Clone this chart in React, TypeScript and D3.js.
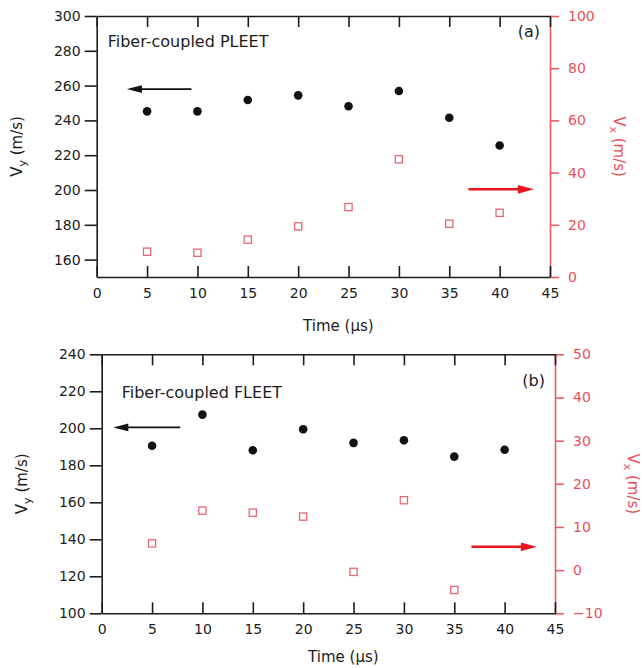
import React, { useRef, useEffect } from 'react';
import * as d3 from 'd3';

// Measured values (time in microseconds)
const times = [5, 10, 15, 20, 25, 30, 35, 40];
const timeTicks = [0, 5, 10, 15, 20, 25, 30, 35, 40, 45];

// Panel (a) - fiber-coupled PLEET
const pleetVy = [245.2, 245.2, 251.7, 254.4, 248.1, 256.9, 241.5, 225.6];
const pleetVx = [9.7, 9.3, 14.3, 19.4, 26.8, 45.1, 20.4, 24.6];
const pleetVyTicks = [160, 180, 200, 220, 240, 260, 280, 300];
const pleetVxTicks = [0, 20, 40, 60, 80, 100];

// Panel (b) - fiber-coupled FLEET (no Vx at 40 us)
const fleetVy = [190.6, 207.4, 188.1, 199.5, 192.1, 193.5, 184.7, 188.4];
const fleetVxTimes = [5, 10, 15, 20, 25, 30, 35];
const fleetVx = [6.2, 13.8, 13.3, 12.4, -0.4, 16.2, -4.6];
const fleetVyTicks = [100, 120, 140, 160, 180, 200, 220, 240];
const fleetVxTicks = [-10, 0, 10, 20, 30, 40, 50];

const FONT = '"DejaVu Sans", Arial, sans-serif';
const INK = '#1c1c1c';
const RED_AXIS = '#ec5a64';
const RED_TEXT = '#e9505b';
const RED_MARK = '#e46872';
const RED_ARROW = '#e8141e';

const panels = [
  {
    title: 'Fiber-coupled PLEET', tag: '(a)',
    left: 96.7, right: 550, top: 16, bottom: 277,
    vyDomain: [150, 300], vyTicks: pleetVyTicks, vy: pleetVy, vyT: times,
    vxDomain: [0, 100], vxTicks: pleetVxTicks, vx: pleetVx, vxT: times,
    blackArrow: [9.4, 3.0, 258], redArrow: [36.9, 43.4, 33.6],
    titleDx: 11, titleDy: 31, tagDy: 21, timeDy: 54, vyLabelX: 22, vxLabelX: 614,
  },
  {
    title: 'Fiber-coupled FLEET', tag: '(b)',
    left: 101.7, right: 555, top: 354.3, bottom: 613.3,
    vyDomain: [100, 240], vyTicks: fleetVyTicks, vy: fleetVy, vyT: times,
    vxDomain: [-10, 50], vxTicks: fleetVxTicks, vx: fleetVx, vxT: fleetVxTimes,
    blackArrow: [7.8, 1.15, 200.5], redArrow: [36.7, 43.2, 5.4],
    titleDx: 20, titleDy: 44, tagDy: 32, timeDy: 49, vyLabelX: 27, vxLabelX: 628,
  },
];

const styleAxis = (g, stroke, fill) => {
  g.attr('font-family', FONT).attr('font-size', 14);
  g.select('.domain').attr('stroke', stroke).attr('stroke-width', 1.6);
  g.selectAll('.tick line').attr('stroke', stroke).attr('stroke-width', 1.6);
  g.selectAll('.tick text').attr('fill', fill);
};

const drawArrow = (g, x0, x1, y, color, width, headLen, headHalf) => {
  const dir = Math.sign(x1 - x0);
  g.append('line')
    .attr('x1', x0).attr('y1', y)
    .attr('x2', x1 - dir * headLen * 0.8).attr('y2', y)
    .attr('stroke', color).attr('stroke-width', width);
  g.append('path')
    .attr('d', `M${x1},${y}L${x1 - dir * headLen},${y - headHalf}L${x1 - dir * headLen},${y + headHalf}Z`)
    .attr('fill', color);
};

const drawPanel = (svg, p) => {
  const x = d3.scaleLinear().domain([0, 45]).range([p.left, p.right]);
  const yL = d3.scaleLinear().domain(p.vyDomain).range([p.bottom, p.top]);
  const yR = d3.scaleLinear().domain(p.vxDomain).range([p.bottom, p.top]);
  const g = svg.append('g');

  // right (Vx) axis first so the black x ticks sit on top of it
  const right = g.append('g')
    .attr('transform', `translate(${p.right},0)`)
    .call(d3.axisRight(yR).tickValues(p.vxTicks).tickSize(9).tickSizeOuter(0).tickPadding(9));
  styleAxis(right, RED_AXIS, RED_TEXT);

  const left = g.append('g')
    .attr('transform', `translate(${p.left},0)`)
    .call(d3.axisLeft(yL).tickValues(p.vyTicks).tickSize(12).tickSizeOuter(0).tickPadding(4));
  styleAxis(left, INK, INK);

  const bottom = g.append('g')
    .attr('transform', `translate(0,${p.bottom})`)
    .call(d3.axisBottom(x).tickValues(timeTicks).tickSize(-11).tickSizeOuter(0).tickPadding(11));
  styleAxis(bottom, INK, INK);

  const top = g.append('g')
    .attr('transform', `translate(0,${p.top})`)
    .call(d3.axisTop(x).tickValues(timeTicks).tickSize(-11).tickSizeOuter(0).tickFormat(() => ''));
  styleAxis(top, INK, INK);

  // Vx squares
  g.selectAll('.sq')
    .data(p.vx)
    .enter()
    .append('rect')
    .attr('x', (d, i) => x(p.vxT[i]) - 3.6)
    .attr('y', d => yR(d) - 3.6)
    .attr('width', 7.2)
    .attr('height', 7.2)
    .attr('fill', 'none')
    .attr('stroke', RED_MARK)
    .attr('stroke-width', 1.3);

  // Vy dots
  g.selectAll('.dot')
    .data(p.vy)
    .enter()
    .append('circle')
    .attr('cx', (d, i) => x(p.vyT[i]))
    .attr('cy', d => yL(d))
    .attr('r', 4.3)
    .attr('fill', '#111');

  // arrows pointing to their axes
  const [bx0, bx1, bv] = p.blackArrow;
  drawArrow(g, x(bx0), x(bx1), yL(bv), '#111', 1.6, 15, 3.8);
  const [rx0, rx1, rv] = p.redArrow;
  drawArrow(g, x(rx0), x(rx1), yR(rv), RED_ARROW, 2.4, 16, 4.4);

  // annotations
  g.append('text')
    .attr('x', p.left + p.titleDx)
    .attr('y', p.top + p.titleDy)
    .attr('font-family', FONT).attr('font-size', 16)
    .attr('fill', INK)
    .text(p.title);

  g.append('text')
    .attr('x', p.right - 10)
    .attr('y', p.top + p.tagDy)
    .attr('text-anchor', 'end')
    .attr('font-family', FONT).attr('font-size', 16)
    .attr('fill', INK)
    .text(p.tag);

  // axis titles
  g.append('text')
    .attr('x', (p.left + p.right) / 2 + 15)
    .attr('y', p.bottom + p.timeDy)
    .attr('text-anchor', 'middle')
    .attr('font-family', FONT).attr('font-size', 15)
    .attr('fill', INK)
    .text('Time (\u03bcs)');

  const cy = (p.top + p.bottom) / 2;
  const vyLabel = g.append('text')
    .attr('transform', `translate(${p.vyLabelX},${cy}) rotate(-90)`)
    .attr('text-anchor', 'middle')
    .attr('font-family', FONT).attr('font-size', 15)
    .attr('fill', INK);
  vyLabel.append('tspan').text('V');
  vyLabel.append('tspan').attr('font-size', 11).attr('dy', 4).text('y');
  vyLabel.append('tspan').attr('dy', -4).text(' (m/s)');

  const vxLabel = g.append('text')
    .attr('transform', `translate(${p.vxLabelX},${cy}) rotate(90)`)
    .attr('text-anchor', 'middle')
    .attr('font-family', FONT).attr('font-size', 15)
    .attr('fill', RED_TEXT);
  vxLabel.append('tspan').text('V');
  vxLabel.append('tspan').attr('font-size', 11).attr('dy', 4).text('x');
  vxLabel.append('tspan').attr('dy', -4).text(' (m/s)');
};

const App = () => {
  const ref = useRef(null);

  useEffect(() => {
    const svg = d3.select(ref.current);
    svg.selectAll('*').remove();
    panels.forEach(p => drawPanel(svg, p));
  }, []);

  return (
    <svg
      ref={ref}
      width={642}
      height={668}
      style={{ position: 'absolute', left: 0, top: 0, background: '#fff' }}
    />
  );
};

export default App;
